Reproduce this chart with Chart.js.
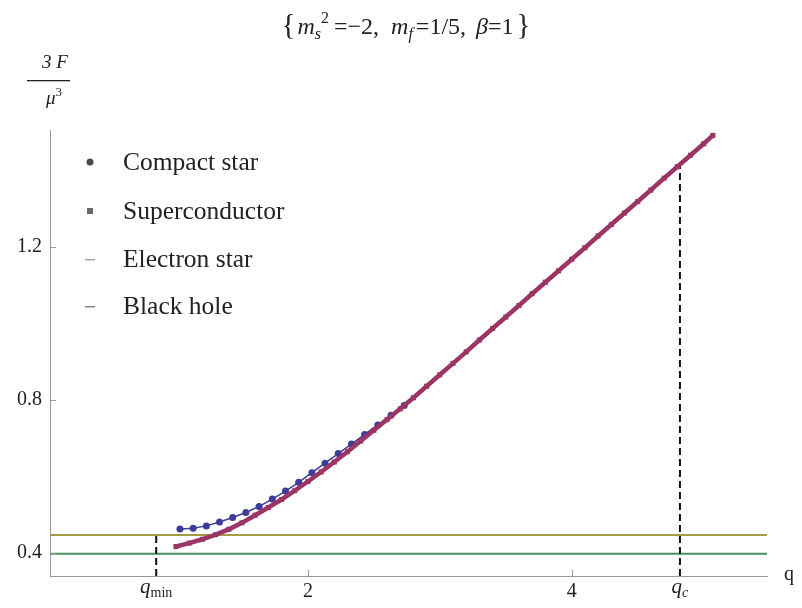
<!DOCTYPE html>
<html>
<head>
<meta charset="utf-8">
<script src="https://cdn.jsdelivr.net/npm/chart.js@4.4.1/dist/chart.umd.min.js"></script>
<style>
html,body{margin:0;padding:0;background:#fff}
canvas{display:block}
</style>
</head>
<body>
<canvas id="chart" width="802" height="608"></canvas>
<script>
// compact star branch
const qCompact=[1.03,1.13,1.23,1.33,1.43,1.53,1.63,1.73,1.83,1.93,2.03,2.13,2.23,2.33,2.43,2.53,2.63,2.73]
const fCompact=[0.463,0.465,0.471,0.481,0.493,0.506,0.522,0.541,0.562,0.585,0.610,0.635,0.660,0.685,0.710,0.735,0.760,0.786]

// superconductor branch
const qSuper=[1.0,1.1,1.2,1.3,1.4,1.5,1.6,1.7,1.8,1.9,2.0,2.1,2.2,2.3,2.4,2.5,2.6,2.7,2.8,2.9,3.0,
3.1,3.2,3.3,3.4,3.5,3.6,3.7,3.8,3.9,4.0,4.1,4.2,4.3,4.4,4.5,4.6,4.7,4.8,4.9,5.0,5.07]
const fSuper=[0.417,0.426,0.436,0.448,0.462,0.479,0.499,0.519,0.540,0.563,0.587,0.612,0.638,0.665,0.693,0.721,0.749,0.777,0.806,0.836,0.866,
0.896,0.926,0.957,0.987,1.017,1.047,1.078,1.108,1.138,1.168,1.198,1.229,1.259,1.289,1.319,1.349,1.380,1.410,1.440,1.470,1.492]

// flat branches
const electronStar=0.447
const blackHole=0.398

// marked charges
const qMin=0.85
const qMinTop=0.455
const qC=4.82
const qCTop=1.416

const qRange=[0.045,5.48]
const fRange=[0.34,1.506]
const xTicks=[2,4]
const yTicks=[0.4,0.8,1.2]
const seriesNames=['Compact star','Superconductor','Electron star','Black hole']

const blue='#3d3d99'
const magenta='#9b3565'
const olive='#a39a45'
const green='#4a9160'
const serif='"Liberation Serif","DejaVu Serif",serif'

function pts(xs,ys){
return xs.map((x,i)=>({x:x,y:ys[i]}))
}

// write a run of text pieces, each {t, it, size, dy, gap}
function runs(ctx,parts,cx,y){
let w=0
parts.forEach(p=>{
ctx.font=(p.it?'italic ':'')+p.size+'px '+serif
p.w=ctx.measureText(p.t).width+(p.gap||0)
w+=p.w
})
let x=cx-w/2
ctx.textBaseline='alphabetic'
ctx.textAlign='left'
parts.forEach(p=>{
ctx.font=(p.it?'italic ':'')+p.size+'px '+serif
ctx.fillText(p.t,x,y+(p.dy||0))
x+=p.w
})
}

const decorations={
id:'decorations',
beforeDraw(chart){
const ctx=chart.ctx
ctx.save()
ctx.fillStyle='#fff'
ctx.fillRect(0,0,chart.width,chart.height)
ctx.restore()
},
afterDraw(chart){
const ctx=chart.ctx
const xs=chart.scales.x
const ys=chart.scales.y
const a=chart.chartArea
ctx.save()

// inward tick marks
ctx.strokeStyle='#999'
ctx.lineWidth=1
xTicks.forEach(v=>{
const px=Math.round(xs.getPixelForValue(v))+0.5
ctx.beginPath();ctx.moveTo(px,a.bottom);ctx.lineTo(px,a.bottom-6);ctx.stroke()
})
yTicks.forEach(v=>{
const py=Math.round(ys.getPixelForValue(v))+0.5
ctx.beginPath();ctx.moveTo(a.left,py);ctx.lineTo(a.left+6,py);ctx.stroke()
})

ctx.fillStyle='#222'

// title
runs(ctx,[
{t:'{',size:29,gap:2},
{t:'m',it:1,size:24},
{t:'s',it:1,size:16,dy:5},
{t:'2',size:16,dy:-11,gap:5},
{t:'=\u22122',size:24},
{t:', ',size:24,gap:6},
{t:'m',it:1,size:24},
{t:'f',it:1,size:16,dy:5,gap:3},
{t:'=1/5, ',size:24,gap:4},
{t:'\u03b2',it:1,size:24},
{t:'=1',size:24,gap:3},
{t:'}',size:29}
],406,34)

// vertical axis label
ctx.textAlign='center'
ctx.font='italic 19px '+serif
ctx.fillText('3 F',55,68)
ctx.fillRect(27,80,43,1.3)
runs(ctx,[{t:'\u03bc',it:1,size:19},{t:'3',size:13,dy:-8}],54,104)

// horizontal axis label
ctx.textAlign='left'
ctx.font='20px '+serif
ctx.fillText('q',784,580)

// marked charges on the axis
runs(ctx,[{t:'q',it:1,size:21},{t:'min',size:14,dy:4}],xs.getPixelForValue(qMin),593)
runs(ctx,[{t:'q',it:1,size:21},{t:'c',it:1,size:14,dy:4}],xs.getPixelForValue(qC),593)

// legend
const rows=[162,211,259,306]
const mark=90
rows.forEach((ry,i)=>{
if(i==0){
ctx.fillStyle='#4a4a4a'
ctx.beginPath();ctx.arc(mark,ry,3.5,0,Math.PI*2);ctx.fill()
}else if(i==1){
ctx.fillStyle='#6a6a6a'
ctx.fillRect(mark-3,ry-3,6,6)
}else{
ctx.fillStyle=i==2?'#a0a0a0':'#808080'
ctx.fillRect(mark-5,ry,10,1.4)
}
ctx.fillStyle='#222'
ctx.font='25.5px '+serif
ctx.textAlign='left'
ctx.textBaseline='middle'
ctx.fillText(seriesNames[i],123,ry+1)
})
ctx.restore()
}
}

new Chart(document.getElementById('chart'),{
type:'scatter',
data:{
datasets:[
{
label:seriesNames[1],
data:pts(qSuper,fSuper),
showLine:true,
borderColor:magenta,
backgroundColor:magenta,
borderWidth:4.5,
pointStyle:'rect',
pointRadius:3.6,
pointBorderWidth:0
},
{
label:seriesNames[0],
data:pts(qCompact,fCompact),
showLine:true,
borderColor:blue,
backgroundColor:blue,
borderWidth:1.5,
pointRadius:3.5,
pointBorderWidth:0
},
{
label:'qmin',
data:[{x:qMin,y:fRange[0]},{x:qMin,y:qMinTop}],
showLine:true,
borderColor:'#111',
borderWidth:2,
borderDash:[7,4],
pointRadius:0
},
{
label:'qc',
data:[{x:qC,y:fRange[0]},{x:qC,y:qCTop}],
showLine:true,
borderColor:'#111',
borderWidth:2,
borderDash:[7,4],
pointRadius:0
},
{
label:seriesNames[2],
data:pts(qRange,[electronStar,electronStar]),
showLine:true,
borderColor:olive,
borderWidth:2,
pointRadius:0
},
{
label:seriesNames[3],
data:pts(qRange,[blackHole,blackHole]),
showLine:true,
borderColor:green,
borderWidth:2,
pointRadius:0
}
]
},
options:{
responsive:false,
animation:false,
devicePixelRatio:1,
events:[],
layout:{padding:{left:0,top:130,right:35,bottom:0}},
plugins:{legend:{display:false},tooltip:{enabled:false}},
scales:{
x:{
type:'linear',
min:qRange[0],
max:qRange[1],
afterBuildTicks:s=>{s.ticks=xTicks.map(v=>({value:v}))},
afterFit:s=>{s.height=32},
grid:{display:false,drawTicks:false},
border:{display:true,color:'#999',width:1},
ticks:{padding:4,color:'#222',font:{family:serif,size:20},callback:v=>String(v)}
},
y:{
type:'linear',
min:fRange[0],
max:fRange[1],
afterBuildTicks:s=>{s.ticks=yTicks.map(v=>({value:v}))},
afterFit:s=>{s.width=50},
grid:{display:false,drawTicks:false},
border:{display:true,color:'#999',width:1},
ticks:{padding:8,color:'#222',font:{family:serif,size:20},callback:v=>v.toFixed(1)}
}
}
},
plugins:[decorations]
})
</script>
</body>
</html>
